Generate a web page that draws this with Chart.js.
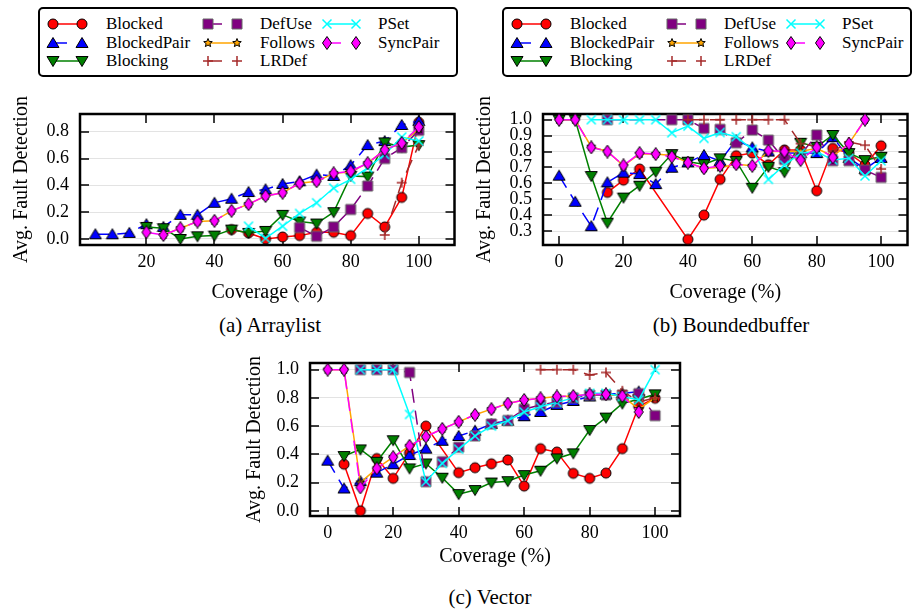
<!DOCTYPE html>
<html>
<head>
<meta charset="utf-8">
<script src="https://cdn.jsdelivr.net/npm/chart.js@4.4.1/dist/chart.umd.min.js"></script>
<style>
  body { margin: 0; width: 915px; height: 614px; background: #fff; position: relative; overflow: hidden; font-family: "Liberation Serif", "Times New Roman", serif; }
  canvas.plot { position: absolute; }
  .legend { position: absolute; top: 7px; height: 66px; border: 2px solid #000; border-radius: 5px; background: #fff; z-index: 2; }
  .legend .txt { position: absolute; font-size: 17px; line-height: 18px; white-space: nowrap; }
  .legend canvas { position: absolute; }
  .caption { position: absolute; font-size: 21px; line-height: 24px; transform: translateX(-50%); white-space: nowrap; }
</style>
</head>
<body>
<div class="legend" id="legendA" style="left:38px;width:416px"></div>
<div class="legend" id="legendB" style="left:502px;width:406px"></div>
<canvas class="plot" id="chartA" width="462" height="230" style="left:0;top:80px"></canvas>
<canvas class="plot" id="chartB" width="453" height="230" style="left:462px;top:80px"></canvas>
<canvas class="plot" id="chartC" width="460" height="235" style="left:230px;top:340px"></canvas>
<div class="caption" style="left:270px;top:313px">(a) Arraylist</div>
<div class="caption" style="left:731px;top:313px">(b) Boundedbuffer</div>
<div class="caption" style="left:490px;top:585px">(c) Vector</div>
<script>
// coverage levels (%) shared by all three plots
var coverage = [0, 5, 10, 15, 20, 25, 30, 35, 40, 45, 50, 55, 60, 65, 70, 75, 80, 85, 90, 95, 100];
var seriesNames = ['Blocked', 'BlockedPair', 'Blocking', 'DefUse', 'Follows', 'LRDef', 'PSet', 'SyncPair'];

// Arraylist
var arraylistBlocked     = [null, null, null, null, null, null, null, null, null, 0.07, 0.045, 0.0, 0.015, 0.025, 0.05, 0.05, 0.025, 0.19, 0.09, 0.31, 0.87];
var arraylistBlockedPair = [null, 0.035, 0.035, 0.045, 0.11, 0.09, 0.18, 0.18, 0.27, 0.30, 0.35, 0.37, 0.41, 0.43, 0.48, 0.47, 0.55, 0.70, 0.73, 0.85, 0.88];
var arraylistBlocking    = [null, null, null, null, 0.09, 0.08, 0.0, 0.02, 0.025, 0.07, 0.045, 0.06, 0.18, 0.13, 0.115, 0.20, 0.47, 0.465, 0.72, 0.685, 0.70];
var arraylistDefUse      = [null, null, null, null, null, null, null, null, null, null, null, null, null, 0.085, 0.02, 0.09, 0.22, 0.395, 0.60, 0.68, 0.81];
var arraylistFollows     = [null, null, null, null, null, 0.03, 0.08, 0.13, 0.135, 0.21, 0.26, 0.32, 0.345, 0.415, 0.43, 0.49, 0.50, 0.565, 0.665, 0.715, 0.82];
var arraylistLRDef       = [null, null, null, null, null, null, null, null, null, null, null, null, null, null, null, null, null, null, 0.03, 0.42, 0.70];
var arraylistPSet        = [null, null, null, null, null, null, null, null, null, null, 0.095, 0.005, 0.095, 0.19, 0.27, 0.38, 0.445, 0.53, 0.63, 0.76, 0.73];
var arraylistSyncPair    = [null, null, null, null, 0.05, 0.03, 0.08, 0.13, 0.135, 0.21, 0.26, 0.32, 0.345, 0.415, 0.43, 0.49, 0.505, 0.565, 0.665, 0.715, 0.835];

// Boundedbuffer
var bufferBlocked     = [null, null, null, 0.543, 0.62, 0.69, null, null, 0.247, 0.40, 0.625, 0.774, 0.79, 0.717, 0.81, 0.81, 0.553, 0.82, 0.79, 0.715, 0.836];
var bufferBlockedPair = [0.648, 0.484, 0.33, 0.606, 0.667, 0.658, 0.595, 0.698, 0.732, 0.778, 0.74, 0.872, 0.826, 0.80, 0.79, 0.79, 0.79, 0.89, 0.76, 0.69, 0.76];
var bufferBlocking    = [1.0, 1.0, 0.646, 0.352, 0.51, 0.585, 0.673, 0.784, 0.736, 0.72, 0.757, 0.74, 0.572, 0.704, 0.67, 0.855, 0.83, 0.904, 0.79, 0.746, 0.767];
var bufferDefUse      = [null, null, null, 1.0, null, null, null, 1.0, 1.0, 0.945, 0.94, 0.855, 0.935, 0.872, 0.75, 0.78, 0.904, 0.742, 0.742, 0.683, 0.637];
var bufferFollows     = [1.0, 1.0, 0.83, 0.80, 0.71, 0.785, 0.785, 0.775, 0.73, 0.695, 0.70, 0.72, 0.71, 0.80, 0.80, 0.80, 0.82, 0.77, 0.85, 1.0, null];
var bufferLRDef       = [null, null, null, null, null, null, null, null, 1.0, 1.0, 1.0, 1.0, 1.0, 1.0, 1.0, 0.85, 0.83, 0.80, 0.86, 0.84, 0.69];
var bufferPSet        = [null, null, 1.0, 1.0, 1.0, 1.0, 1.0, 0.918, 0.96, 0.883, 0.92, 0.893, 0.813, 0.625, 0.715, 0.79, 0.80, 0.746, 0.757, 0.646, 0.742];
var bufferSyncPair    = [1.0, 1.0, 0.826, 0.80, 0.713, 0.79, 0.784, 0.767, 0.73, 0.694, 0.71, 0.72, 0.71, 0.805, 0.80, 0.746, 0.826, 0.763, 0.85, 1.0, null];

// Vector
var vectorBlocked     = [null, 0.33, 0.0, 0.37, 0.23, 0.41, 0.60, null, 0.27, 0.305, 0.333, 0.36, 0.175, 0.44, 0.416, 0.265, 0.23, 0.267, 0.44, 0.74, 0.797];
var vectorBlockedPair = [0.355, 0.158, 0.21, 0.27, 0.33, 0.395, 0.44, 0.496, 0.53, 0.567, 0.615, 0.638, 0.67, 0.70, 0.75, 0.778, 0.81, 0.825, 0.832, 0.845, null];
var vectorBlocking    = [null, 0.388, 0.435, 0.347, 0.50, 0.30, 0.335, 0.234, 0.118, 0.147, 0.20, 0.21, 0.253, 0.284, 0.371, 0.407, 0.572, 0.66, 0.76, 0.79, 0.825];
var vectorDefUse      = [null, null, 1.0, 1.0, 1.0, 0.98, 0.206, 0.348, 0.45, 0.53, 0.615, 0.64, 0.72, 0.75, 0.77, 0.80, 0.82, 0.82, 0.82, 0.83, 0.674];
var vectorFollows     = [1.0, 1.0, 0.20, 0.30, 0.38, 0.46, 0.525, 0.58, 0.63, 0.68, 0.72, 0.76, 0.785, 0.797, 0.81, 0.813, 0.825, 0.825, 0.813, 0.72, 0.80];
var vectorLRDef       = [null, null, null, null, null, null, null, null, null, null, null, null, null, 1.0, 1.0, 1.0, 0.962, 0.98, 0.85, 0.77, 0.80];
var vectorPSet        = [null, null, 1.0, 1.0, 1.0, 0.683, 0.206, 0.336, 0.437, 0.53, 0.60, 0.638, 0.70, 0.737, 0.768, 0.80, 0.832, 0.832, 0.81, 0.785, 1.0];
var vectorSyncPair    = [1.0, 1.0, 0.165, 0.30, 0.38, 0.46, 0.525, 0.58, 0.63, 0.68, 0.72, 0.76, 0.785, 0.797, 0.81, 0.813, 0.825, 0.825, 0.813, 0.70, null];

// axis ticks
var xTicksArraylist = [20, 40, 60, 80, 100];
var xTicksFull = [0, 20, 40, 60, 80, 100];
var yTicksArraylist = [0.0, 0.2, 0.4, 0.6, 0.8];
var yTicksBuffer = [0.3, 0.4, 0.5, 0.6, 0.7, 0.8, 0.9, 1.0];
var yTicksVector = [0.0, 0.2, 0.4, 0.6, 0.8, 1.0];

// line/point style per series
var styles = [
  { color: '#ff0000', marker: 'circle',  dash: false },
  { color: '#0000ff', marker: 'up',      dash: true },
  { color: '#008000', marker: 'down',    dash: false },
  { color: '#800080', marker: 'square',  dash: true },
  { color: '#ffa500', marker: 'star',    dash: false },
  { color: '#a52a2a', marker: 'plus',    dash: true },
  { color: '#00ffff', marker: 'cross',   dash: false },
  { color: '#ff00ff', marker: 'diamond', dash: true }
];
var DASH = [14, 8];

function drawMarker(g, kind, fill, cx, cy) {
  g.save();
  g.translate(cx, cy);
  g.lineWidth = 1;
  g.strokeStyle = '#000';
  g.fillStyle = fill;
  g.setLineDash([]);
  g.beginPath();
  if (kind === 'circle') {
    g.arc(0, 0, 5, 0, Math.PI * 2);
  } else if (kind === 'up') {
    g.moveTo(0, -5.5); g.lineTo(6, 4.5); g.lineTo(-6, 4.5); g.closePath();
  } else if (kind === 'down') {
    g.moveTo(0, 5.5); g.lineTo(6, -4.5); g.lineTo(-6, -4.5); g.closePath();
  } else if (kind === 'square') {
    g.rect(-5, -5, 10, 10);
    g.strokeStyle = '#666';
  } else if (kind === 'diamond') {
    g.moveTo(0, -6.5); g.lineTo(4.5, 0); g.lineTo(0, 6.5); g.lineTo(-4.5, 0); g.closePath();
  } else if (kind === 'star') {
    for (var i = 0; i < 10; i++) {
      var r = i % 2 ? 2 : 4.5;
      var a = -Math.PI / 2 + i * Math.PI / 5;
      if (i === 0) g.moveTo(r * Math.cos(a), r * Math.sin(a));
      else g.lineTo(r * Math.cos(a), r * Math.sin(a));
    }
    g.closePath();
  }
  if (kind === 'plus' || kind === 'cross') {
    g.strokeStyle = fill;
    g.lineWidth = 1.5;
    if (kind === 'plus') {
      g.moveTo(-5, 0); g.lineTo(5, 0); g.moveTo(0, -5); g.lineTo(0, 5);
    } else {
      g.moveTo(-4.5, -4.5); g.lineTo(4.5, 4.5); g.moveTo(-4.5, 4.5); g.lineTo(4.5, -4.5);
    }
    g.stroke();
  } else {
    g.fill();
    g.stroke();
  }
  g.restore();
}

function markerImage(kind, fill) {
  var c = document.createElement('canvas');
  c.width = 14; c.height = 14;
  drawMarker(c.getContext('2d'), kind, fill, 7, 7);
  return c;
}

var markers = styles.map(function(s) { return markerImage(s.marker, s.color); });

// frame round the plot area plus inward ticks on all four sides
var framePlugin = {
  id: 'frame',
  beforeDatasetsDraw: function(chart) {
    var ctx = chart.ctx, a = chart.chartArea;
    var xs = chart.scales.x, ys = chart.scales.y;
    ctx.save();
    ctx.strokeStyle = '#000';
    ctx.lineWidth = 1.5;
    ctx.beginPath();
    xs.ticks.forEach(function(t) {
      var px = Math.round(xs.getPixelForValue(t.value));
      ctx.moveTo(px, a.bottom); ctx.lineTo(px, a.bottom - 9);
      ctx.moveTo(px, a.top); ctx.lineTo(px, a.top + 9);
    });
    ys.ticks.forEach(function(t) {
      var py = Math.round(ys.getPixelForValue(t.value));
      ctx.moveTo(a.left, py); ctx.lineTo(a.left + 9, py);
      ctx.moveTo(a.right, py); ctx.lineTo(a.right - 9, py);
    });
    ctx.stroke();
    ctx.lineWidth = 2.5;
    ctx.strokeRect(a.left, a.top, a.right - a.left, a.bottom - a.top);
    ctx.restore();
  }
};

Chart.defaults.font.family = '"Liberation Serif", "Times New Roman", serif';
Chart.defaults.color = '#000';

function makeChart(id, values, opt) {
  var datasets = values.map(function(vals, i) {
    var pts = [];
    vals.forEach(function(v, k) { if (v !== null) pts.push({ x: coverage[k], y: v }); });
    return {
      label: seriesNames[i],
      data: pts,
      borderColor: styles[i].color,
      backgroundColor: styles[i].color,
      borderWidth: 1.5,
      borderDash: styles[i].dash ? DASH : [],
      pointStyle: markers[i],
      pointRadius: 6,
      tension: 0,
      fill: false,
      clip: false,
      order: values.length - i
    };
  });

  new Chart(document.getElementById(id), {
    type: 'line',
    data: { datasets: datasets },
    plugins: [framePlugin],
    options: {
      responsive: false,
      animation: false,
      events: [],
      layout: { padding: opt.padding },
      plugins: { legend: { display: false }, tooltip: { enabled: false } },
      scales: {
        x: {
          type: 'linear',
          min: opt.xMin, max: opt.xMax,
          afterBuildTicks: function(s) { s.ticks = opt.xTicks.map(function(v) { return { value: v }; }); },
          afterFit: function(s) { s.height = opt.xHeight; s.paddingLeft = 0; s.paddingRight = 0; },
          grid: { display: false, drawTicks: false },
          border: { display: false },
          ticks: { font: { size: 18 }, padding: 6, maxRotation: 0, autoSkip: false },
          title: { display: true, text: 'Coverage (%)', font: { size: 20 }, padding: { top: 0, bottom: opt.xTitlePad } }
        },
        y: {
          min: opt.yMin, max: opt.yMax,
          afterBuildTicks: function(s) { s.ticks = opt.yTicks.map(function(v) { return { value: v }; }); },
          afterFit: function(s) { s.width = opt.yWidth; s.paddingTop = 0; s.paddingBottom = 0; },
          grid: { color: '#e3e3e3', lineWidth: 1, drawTicks: false },
          border: { display: false },
          ticks: { font: { size: 18 }, padding: 11, autoSkip: false, callback: function(v) { return Number(v).toFixed(1); } },
          title: { display: true, text: 'Avg. Fault Detection', font: { size: 20 }, padding: { top: opt.yTitlePad, bottom: 0 } }
        }
      }
    }
  });
}

makeChart('chartA',
  [arraylistBlocked, arraylistBlockedPair, arraylistBlocking, arraylistDefUse, arraylistFollows, arraylistLRDef, arraylistPSet, arraylistSyncPair],
  { xMin: 0.5, xMax: 110.5, yMin: -0.045, yMax: 0.932, xTicks: xTicksArraylist, yTicks: yTicksArraylist,
    padding: { top: 34, right: 3, left: 0, bottom: 0 }, yWidth: 80, xHeight: 65, yTitlePad: 10, xTitlePad: 5 });

makeChart('chartB',
  [bufferBlocked, bufferBlockedPair, bufferBlocking, bufferDefUse, bufferFollows, bufferLRDef, bufferPSet, bufferSyncPair],
  { xMin: -5, xMax: 108.2, yMin: 0.212, yMax: 1.036, xTicks: xTicksFull, yTicks: yTicksBuffer,
    padding: { top: 34, right: 1, left: 0, bottom: 0 }, yWidth: 81, xHeight: 65, yTitlePad: 11, xTitlePad: 5 });

makeChart('chartC',
  [vectorBlocked, vectorBlockedPair, vectorBlocking, vectorDefUse, vectorFollows, vectorLRDef, vectorPSet, vectorSyncPair],
  { xMin: -5.4, xMax: 107.6, yMin: -0.037, yMax: 1.047, xTicks: xTicksFull, yTicks: yTicksVector,
    padding: { top: 23, right: 10, left: 0, bottom: 0 }, yWidth: 80, xHeight: 59, yTitlePad: 13, xTitlePad: 6 });

// legend: three columns, two markers per sample
var legendCols = [[0, 1, 2], [3, 4, 5], [6, 7]];
var legendColX = [13, 168, 287];
var legendTextX = [66, 220, 338];
var legendRowY = [15, 34, 52];

function buildLegend(boxId) {
  var box = document.getElementById(boxId);
  legendCols.forEach(function(col, ci) {
    col.forEach(function(si, ri) {
      var s = styles[si];
      var c = document.createElement('canvas');
      c.width = 44; c.height = 16;
      c.style.left = (legendColX[ci] - 7) + 'px';
      c.style.top = (legendRowY[ri] - 8) + 'px';
      var g = c.getContext('2d');
      g.strokeStyle = s.color;
      g.lineWidth = 1.5;
      g.beginPath();
      g.moveTo(7, 8);
      g.lineTo(s.dash ? 21 : 36, 8);
      g.stroke();
      drawMarker(g, s.marker, s.color, 7, 8);
      drawMarker(g, s.marker, s.color, 36, 8);
      box.appendChild(c);

      var t = document.createElement('div');
      t.className = 'txt';
      t.textContent = seriesNames[si];
      t.style.left = legendTextX[ci] + 'px';
      t.style.top = (legendRowY[ri] - 9) + 'px';
      box.appendChild(t);
    });
  });
}
buildLegend('legendA');
buildLegend('legendB');
</script>
</body>
</html>
